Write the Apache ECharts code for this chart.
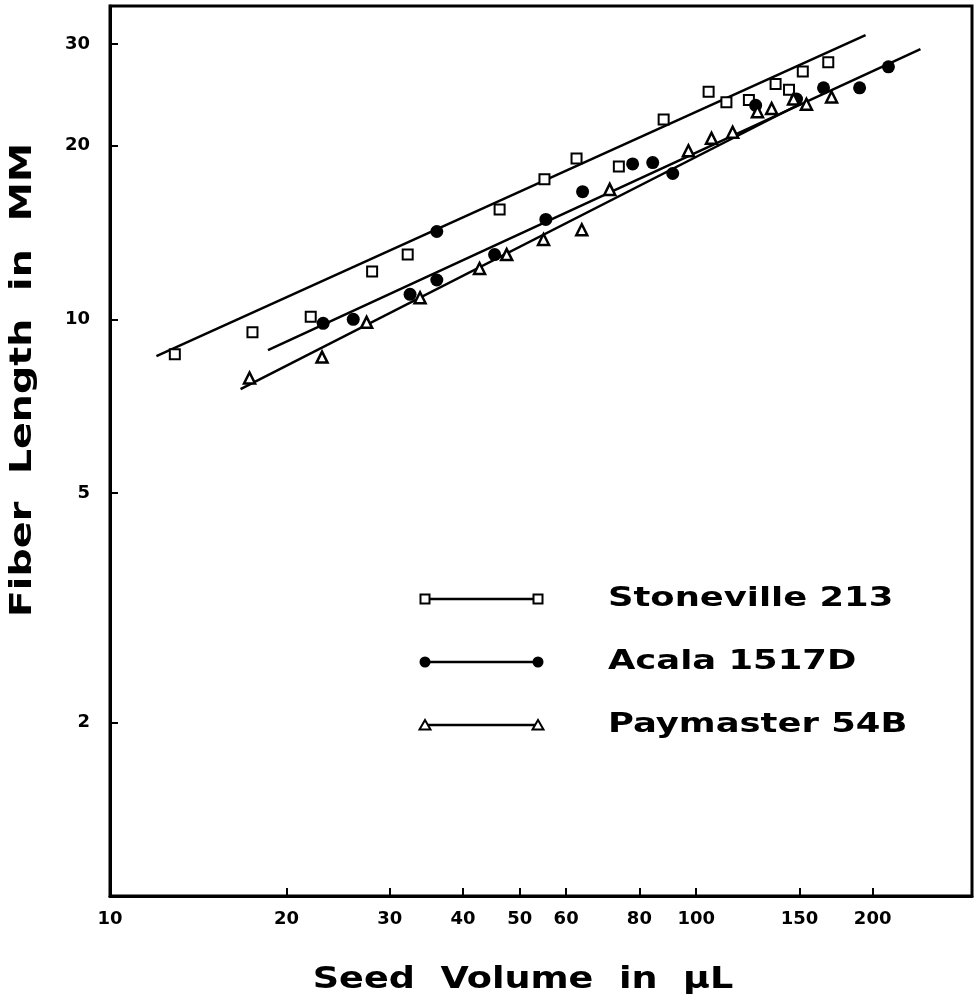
<!DOCTYPE html>
<html>
<head>
<meta charset="utf-8">
<script src="https://cdn.jsdelivr.net/npm/echarts@6/dist/echarts.min.js"></script>
<style>
html, body { margin: 0; padding: 0; background: #fff; }
#chart { width: 975px; height: 1003px; }
</style>
</head>
<body>
<div id="chart"></div>
<script>
// seed volume (uL) / fiber length (mm)
var stonevilleX = [12.9, 17.5, 22.0, 28.0, 32.2, 46.2, 55.1, 62.5, 73.8, 88.0, 105, 112.6, 123, 136.6, 144, 152, 168];
var stonevilleY = [8.70, 9.50, 10.1, 12.1, 12.96, 15.5, 17.5, 19.0, 18.4, 22.2, 24.8, 23.8, 24.0, 25.6, 25.0, 26.9, 27.9];
var acalaX = [23.1, 26.0, 32.5, 36.1, 36.1, 45.3, 55.4, 64.0, 77.9, 84.3, 91.2, 126.3, 148.3, 164.9, 190, 212.8];
var acalaY = [9.84, 10.0, 11.05, 14.2, 11.7, 12.95, 14.9, 16.65, 18.6, 18.7, 17.9, 23.5, 24.1, 25.2, 25.2, 27.4];
var paymasterX = [17.3, 23.0, 27.4, 33.8, 42.7, 47.5, 54.9, 63.8, 71.2, 97.0, 106.2, 115.4, 127.2, 134.5, 146.6, 154.2, 170.2];
var paymasterY = [7.91, 8.60, 9.88, 10.9, 12.25, 12.95, 13.75, 14.3, 16.8, 19.6, 20.6, 21.1, 22.9, 23.2, 24.1, 23.6, 24.3];

// fitted lines (end points)
var stonevilleFitX = [12.0, 194.5];
var stonevilleFitY = [8.63, 31.1];
var acalaFitX = [18.6, 241.3];
var acalaFitY = [8.84, 29.4];
var paymasterFitX = [16.7, 150];
var paymasterFitY = [7.57, 23.6];

var xTicks = [20, 30, 40, 50, 60, 80, 100, 150, 200];
var xLabels = [10, 20, 30, 40, 50, 60, 80, 100, 150, 200];
var yTicks = [2, 5, 10, 20, 30];
var seriesNames = ['Stoneville 213', 'Acala 1517D', 'Paymaster 54B'];

// both axes are log10, so the data goes through log10 before the value axes
function lg(v) { return Math.log10(v); }
function pts(xs, ys) {
    var out = [];
    for (var i = 0; i < xs.length; i++) out.push([lg(xs[i]), lg(ys[i])]);
    return out;
}
function unlog(v) { return Math.round(Math.pow(10, v)); }

var FONT = '"DejaVu Sans", sans-serif';

var myChart = echarts.init(document.getElementById('chart'));

// legend drawn by hand: a short line with a marker on each end, like the original
var legendGraphic = [];
var legendSymbols = ['rect', 'circle', 'triangle'];
seriesNames.forEach(function (name, i) {
    var y = 599 + 63 * i;
    legendGraphic.push({
        type: 'line', shape: { x1: 425, y1: y, x2: 538, y2: y },
        style: { stroke: '#000', lineWidth: 2.5 }
    });
    [425, 538].forEach(function (x) {
        var s = legendSymbols[i];
        if (s === 'rect') {
            legendGraphic.push({ type: 'rect', shape: { x: x - 4.5, y: y - 4.5, width: 9, height: 9 },
                style: { fill: '#fff', stroke: '#000', lineWidth: 2 }, z: 10 });
        } else if (s === 'circle') {
            legendGraphic.push({ type: 'circle', shape: { cx: x, cy: y, r: 5.5 },
                style: { fill: '#000' }, z: 10 });
        } else {
            legendGraphic.push({ type: 'polygon', shape: { points: [[x, y - 5], [x + 5.5, y + 4.5], [x - 5.5, y + 4.5]] },
                style: { fill: '#fff', stroke: '#000', lineWidth: 2 }, z: 10 });
        }
    });
    // the original lettering is a very wide face, so stretch it
    legendGraphic.push({
        type: 'text', x: 608, y: y, scaleX: 1.36,
        style: { text: name, fill: '#000', font: 'bold 26px ' + FONT, verticalAlign: 'middle' }
    });
});

// axis titles
legendGraphic.push({
    type: 'text', x: 523, y: 980, scaleX: 1.22,
    style: { text: 'Seed  Volume  in  \u03bcL', fill: '#000', font: 'bold 30px ' + FONT,
        align: 'center', verticalAlign: 'middle' }
});
legendGraphic.push({
    type: 'text', x: 23, y: 380, rotation: Math.PI / 2, scaleX: 1.32,
    style: { text: 'Fiber  Length  in  MM', fill: '#000', font: 'bold 30px ' + FONT,
        align: 'center', verticalAlign: 'middle' }
});

var option = {
    animation: false,
    backgroundColor: '#fff',
    grid: {
        left: 110, right: 3, top: 6, bottom: 107,
        show: true, borderColor: '#000', borderWidth: 3
    },
    xAxis: {
        type: 'value',
        min: 1, max: 2.4705,
        splitLine: { show: false },
        axisLine: { lineStyle: { color: '#000', width: 3 } },
        axisTick: { inside: true, length: 8, lineStyle: { color: '#000', width: 2 },
            customValues: xTicks.map(lg) },
        axisLabel: { customValues: xLabels.map(lg), formatter: unlog, margin: 14,
            color: '#000', fontSize: 18, fontWeight: 'bold', fontFamily: FONT }
    },
    yAxis: {
        type: 'value',
        min: 0, max: 1.5433,
        splitLine: { show: false },
        axisLine: { lineStyle: { color: '#000', width: 3 } },
        axisTick: { inside: true, length: 8, lineStyle: { color: '#000', width: 2 },
            customValues: yTicks.map(lg) },
        axisLabel: { customValues: yTicks.map(lg), formatter: unlog, margin: 20,
            color: '#000', fontSize: 18, fontWeight: 'bold', fontFamily: FONT }
    },
    series: [
        {
            name: 'Stoneville fit', type: 'line', symbol: 'none', silent: true,
            lineStyle: { color: '#000', width: 2.5 },
            data: pts(stonevilleFitX, stonevilleFitY)
        },
        {
            name: 'Acala fit', type: 'line', symbol: 'none', silent: true,
            lineStyle: { color: '#000', width: 2.5 },
            data: pts(acalaFitX, acalaFitY)
        },
        {
            name: 'Paymaster fit', type: 'line', symbol: 'none', silent: true,
            lineStyle: { color: '#000', width: 2.5 },
            data: pts(paymasterFitX, paymasterFitY)
        },
        {
            name: seriesNames[0], type: 'scatter', symbol: 'rect', symbolSize: 10,
            itemStyle: { color: '#fff', borderColor: '#000', borderWidth: 2, opacity: 1 },
            data: pts(stonevilleX, stonevilleY), z: 3
        },
        {
            name: seriesNames[1], type: 'scatter', symbol: 'circle', symbolSize: 13,
            itemStyle: { color: '#000', opacity: 1 },
            data: pts(acalaX, acalaY), z: 3
        },
        {
            name: seriesNames[2], type: 'scatter', symbol: 'triangle', symbolSize: 11,
            itemStyle: { color: '#fff', borderColor: '#000', borderWidth: 2.5, opacity: 1 },
            data: pts(paymasterX, paymasterY), z: 3
        }
    ],
    graphic: legendGraphic
};
myChart.setOption(option);
</script>
</body>
</html>
